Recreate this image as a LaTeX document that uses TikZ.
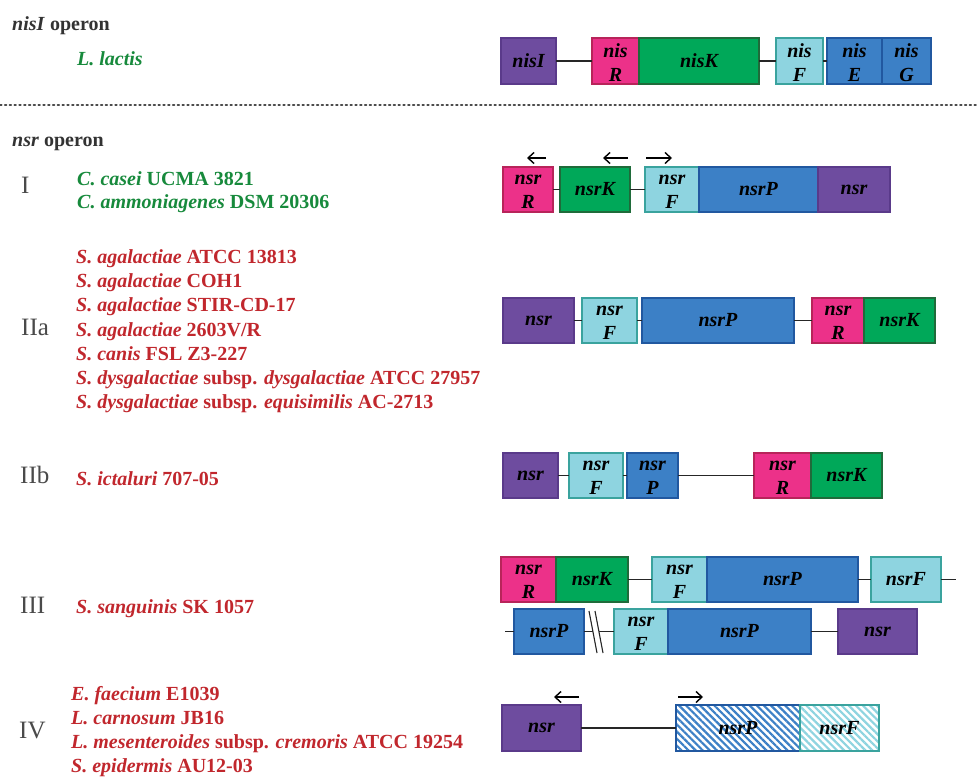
\documentclass[tikz,border=0pt]{standalone}
\usepackage{fontspec}
\setmainfont{Liberation Serif}
\usetikzlibrary{patterns.meta,arrows.meta}
\definecolor{cpur}{HTML}{6E4C9F}\definecolor{cpurD}{HTML}{5A3A8A}
\definecolor{cpink}{HTML}{EC3189}\definecolor{cpinkD}{HTML}{B8245A}
\definecolor{cgrn}{HTML}{00A859}\definecolor{cgrnD}{HTML}{1F6B3A}
\definecolor{ccyan}{HTML}{8ED4E0}\definecolor{ccyanD}{HTML}{3AA39E}
\definecolor{cblue}{HTML}{3C80C6}\definecolor{cblueD}{HTML}{2158A0}
\definecolor{tgreen}{HTML}{178A3C}
\definecolor{tred}{HTML}{C1272D}
\definecolor{thead}{HTML}{333333}
\definecolor{tnum}{HTML}{4A4A4A}
\newcommand\gbox[7]{\node[#2, minimum width={(#5-#3)*1pt}, minimum height={(#6-#4)*1pt}] (#1) at (#3,#4) {#7};}
\newcommand\two[2]{\vbox{\kern4pt\baselineskip=24pt\lineskiplimit=-100pt\halign{\hfil##\hfil\cr#1\cr#2\cr}}}
\begin{document}
\begin{tikzpicture}[x=1pt,y=-1pt,
  gene/.style={draw, line width=1.6pt, inner sep=0pt, outer sep=0pt, anchor=north west,
    font=\fontsize{20}{24}\selectfont\bfseries\itshape},
  gpur/.style={gene, fill=cpur, draw=cpurD},
  gpink/.style={gene, fill=cpink, draw=cpinkD},
  ggrn/.style={gene, fill=cgrn, draw=cgrnD},
  gcyan/.style={gene, fill=ccyan, draw=ccyanD},
  gblue/.style={gene, fill=cblue, draw=cblueD},
  hblue/.style={gene, draw=cblueD, pattern={Lines[angle=-45, distance=5pt, line width=2.2pt]}, pattern color=cblue},
  hcyan/.style={gene, draw=ccyanD, pattern={Lines[angle=-45, distance=5pt, line width=2.2pt]}, pattern color=ccyan},
  link/.style={line width=1.3pt, draw=black!85},
  prom/.style={-{Straight Barb[length=6pt,width=11pt,line width=1.4pt]}, line width=1.5pt},
  head/.style={anchor=base west, inner sep=0pt, text=thead, font=\fontsize{20}{24}\selectfont\bfseries},
  num/.style={anchor=base west, inner sep=0pt, text=tnum, font=\fontsize{25}{30}\selectfont},
  sp/.style={anchor=base west, inner sep=0pt, font=\fontsize{20}{24}\selectfont\bfseries},
]
\fill[white] (0,0) rectangle (979,776);
\useasboundingbox (0,0) rectangle (979,776);

% headers and dotted separator
\node[head] (h1) at (12,31) {\textit{nisI} operon};
\node[sp, text=tgreen] (ll) at (77,65) {\textit{L. lactis}};
\coordinate (d1) at (0,105);
\coordinate (d2) at (979,105);
\draw[line width=1.8pt, draw=black!70, dash pattern=on 1.6pt off 3.2pt, line cap=round] (d1) -- (d2);
\node[head] (h2) at (12,146) {\textit{nsr} operon};

% roman numerals
\node[num] (nI) at (21,193) {I};
\node[num] (nIIa) at (21,335) {IIa};
\node[num] (nIIb) at (20,483) {IIb};
\node[num] (nIII) at (20,613) {III};
\node[num] (nIV) at (19,738) {IV};

% species
\node[sp, text=tgreen] (s11) at (77,185) {\textit{C. casei} UCMA 3821};
\node[sp, text=tgreen] (s12) at (77,208) {\textit{C. ammoniagenes} DSM 20306};
\node[sp, text=tred] (s21) at (76,263) {\textit{S. agalactiae} ATCC 13813};
\node[sp, text=tred] (s22) at (76,287) {\textit{S. agalactiae} COH1};
\node[sp, text=tred] (s23) at (76,311) {\textit{S. agalactiae} STIR-CD-17};
\node[sp, text=tred] (s24) at (76,336) {\textit{S. agalactiae} 2603V/R};
\node[sp, text=tred] (s25) at (76,360) {\textit{S. canis} FSL Z3-227};
\node[sp, text=tred] (s26) at (76,384) {\textit{S. dysgalactiae} subsp. \textit{dysgalactiae} ATCC 27957};
\node[sp, text=tred] (s27) at (76,408) {\textit{S. dysgalactiae} subsp. \textit{equisimilis} AC-2713};
\node[sp, text=tred] (s31) at (76,485) {\textit{S. ictaluri} 707-05};
\node[sp, text=tred] (s41) at (76,613) {\textit{S. sanguinis} SK 1057};
\node[sp, text=tred] (s51) at (71,700) {\textit{E. faecium} E1039};
\node[sp, text=tred] (s52) at (71,724) {\textit{L. carnosum} JB16};
\node[sp, text=tred] (s53) at (71,748) {\textit{L. mesenteroides} subsp. \textit{cremoris} ATCC 19254};
\node[sp, text=tred] (s54) at (71,772) {\textit{S. epidermis} AU12-03};

% nisI operon
\gbox{a1}{gpur}{501}{38}{556}{84}{nisI}
\gbox{a2}{gpink}{592}{38}{639}{84}{\two{nis}{R}}
\gbox{a3}{ggrn}{639}{38}{759}{84}{nisK}
\gbox{a4}{gcyan}{776}{38}{823}{84}{\two{nis}{F}}
\gbox{a5}{gblue}{827}{38}{882}{84}{\two{nis}{E}}
\gbox{a6}{gblue}{882}{38}{931}{84}{\two{nis}{G}}
\draw[link] (a1.east) -- (a2.west);
\draw[link] (a3.east) -- (a4.west);
\draw[link] (a4.east) -- (a5.west);

% I
\gbox{b1}{gpink}{503}{167}{553}{212}{\two{nsr}{R}}
\gbox{b2}{ggrn}{560}{167}{630}{212}{nsrK}
\gbox{b3}{gcyan}{645}{167}{699}{212}{\two{nsr}{F}}
\gbox{b4}{gblue}{699}{167}{818}{212}{nsrP}
\gbox{b5}{gpur}{818}{167}{890}{212}{nsr}
\draw[link] (b1.east) -- (b2.west);
\draw[link] (b2.east) -- (b3.west);
\coordinate (pb1a) at (546,158); \coordinate (pb1b) at (527,158);
\coordinate (pb2a) at (628,158); \coordinate (pb2b) at (603,158);
\coordinate (pb3a) at (646,158); \coordinate (pb3b) at (672,158);
\draw[prom] (pb1a) -- (pb1b);
\draw[prom] (pb2a) -- (pb2b);
\draw[prom] (pb3a) -- (pb3b);

% IIa
\gbox{c1}{gpur}{503}{298}{574}{343}{nsr}
\gbox{c2}{gcyan}{582}{298}{637}{343}{\two{nsr}{F}}
\gbox{c3}{gblue}{642}{298}{794}{343}{nsrP}
\gbox{c4}{gpink}{812}{298}{864}{343}{\two{nsr}{R}}
\gbox{c5}{ggrn}{864}{298}{935}{343}{nsrK}
\draw[link] (c1.east) -- (c2.west);
\draw[link] (c2.east) -- (c3.west);
\draw[link] (c3.east) -- (c4.west);

% IIb
\gbox{e1}{gpur}{503}{453}{558}{498}{nsr}
\gbox{e2}{gcyan}{569}{453}{623}{498}{\two{nsr}{F}}
\gbox{e3}{gblue}{627}{453}{678}{498}{\two{nsr}{P}}
\gbox{e4}{gpink}{754}{453}{811}{498}{\two{nsr}{R}}
\gbox{e5}{ggrn}{811}{453}{882}{498}{nsrK}
\draw[link] (e1.east) -- (e2.west);
\draw[link] (e2.east) -- (e3.west);
\draw[link] (e3.east) -- (e4.west);

% III top
\gbox{f1}{gpink}{501}{557}{556}{602}{\two{nsr}{R}}
\gbox{f2}{ggrn}{556}{557}{628}{602}{nsrK}
\gbox{f3}{gcyan}{652}{557}{707}{602}{\two{nsr}{F}}
\gbox{f4}{gblue}{707}{557}{858}{602}{nsrP}
\gbox{f5}{gcyan}{871}{557}{941}{602}{nsrF}
\coordinate (fend) at (956,579.5);
\draw[link] (f2.east) -- (f3.west);
\draw[link] (f4.east) -- (f5.west);
\draw[link] (f5.east) -- (fend);
% III bottom
\gbox{g1}{gblue}{514}{609}{584}{654}{nsrP}
\gbox{g2}{gcyan}{614}{609}{668}{654}{\two{nsr}{F}}
\gbox{g3}{gblue}{668}{609}{811}{654}{nsrP}
\gbox{g4}{gpur}{838}{609}{917}{654}{nsr}
\coordinate (gstart) at (505,631.5);
\coordinate (gb1) at (593,631.5);
\coordinate (gb2) at (599,631.5);
\draw[link] (gstart) -- (g1.west);
\draw[link] (g1.east) -- (gb1);
\draw[link] (gb2) -- (g2.west);
\coordinate (sl1a) at (589,611); \coordinate (sl1b) at (597,653);
\coordinate (sl2a) at (595,611); \coordinate (sl2b) at (603,653);
\draw[line width=1.1pt, black!85] (sl1a) -- (sl1b);
\draw[line width=1.1pt, black!85] (sl2a) -- (sl2b);
\draw[link] (g3.east) -- (g4.west);

% IV
\gbox{h1b}{gpur}{502}{705}{581}{751}{nsr}
\gbox{h2b}{hblue}{676}{705}{800}{751}{nsrP}
\gbox{h3b}{hcyan}{800}{705}{879}{751}{nsrF}
\draw[link] (h1b.east) -- (h2b.west);
\coordinate (ph1a) at (579,697); \coordinate (ph1b) at (554,697);
\coordinate (ph2a) at (678,697); \coordinate (ph2b) at (703,697);
\draw[prom] (ph1a) -- (ph1b);
\draw[prom] (ph2a) -- (ph2b);
\end{tikzpicture}
\end{document}
